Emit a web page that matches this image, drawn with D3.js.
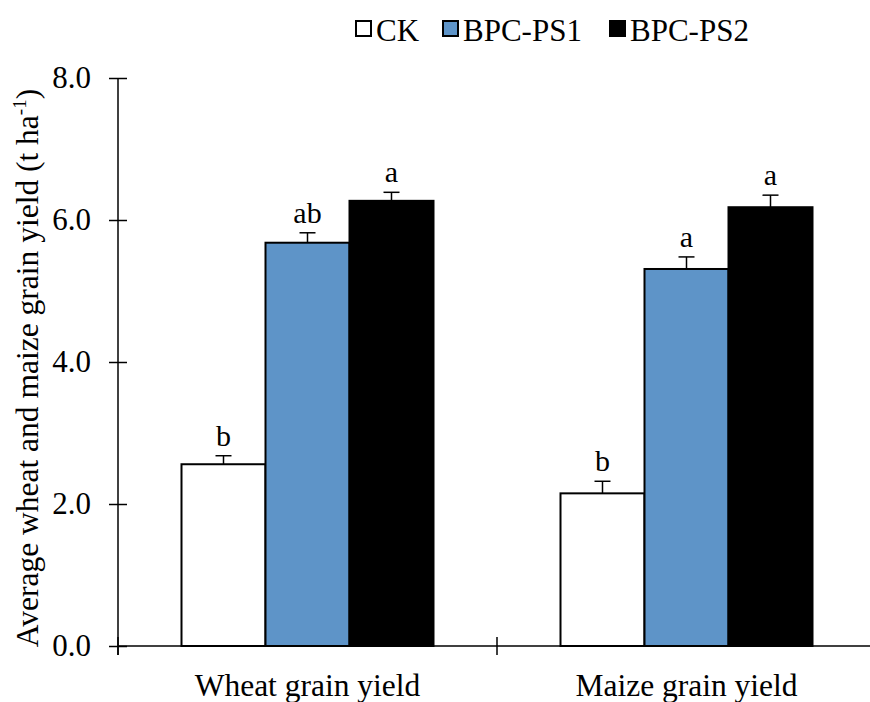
<!DOCTYPE html>
<html>
<head>
<meta charset="utf-8">
<script src="https://cdn.jsdelivr.net/npm/d3@7"></script>
<style>
  body { margin: 0; background: #fff; }
  text { font-family: "Liberation Serif", "Times New Roman", serif; fill: #000; }
</style>
</head>
<body>
<div id="chart"></div>
<script>
var categories = ["Wheat grain yield", "Maize grain yield"];
var series = ["CK", "BPC-PS1", "BPC-PS2"];
var colors = ["#ffffff", "#5e94c8", "#000000"];
// mean yield per category for each series (t ha-1)
var ck = [2.56, 2.15];
var ps1 = [5.68, 5.31];
var ps2 = [6.27, 6.18];
// standard error (upper bar only)
var ck_err = [0.12, 0.17];
var ps1_err = [0.14, 0.17];
var ps2_err = [0.12, 0.17];
// significance letters
var ck_sig = ["b", "b"];
var ps1_sig = ["ab", "a"];
var ps2_sig = ["a", "a"];
var yTicks = [0, 2, 4, 6, 8];

var width = 870;
var height = 702;

var values = [ck, ps1, ps2];
var errs = [ck_err, ps1_err, ps2_err];
var sigs = [ck_sig, ps1_sig, ps2_sig];

var svg = d3.select("#chart").append("svg")
  .attr("width", width)
  .attr("height", height);

var x0 = d3.scaleBand()
  .domain(categories)
  .range([118, 876]);
var bandW = x0.bandwidth();
var x1 = d3.scaleBand()
  .domain(series)
  .range([(bandW - 252) / 2, (bandW + 252) / 2]);
var y = d3.scaleLinear()
  .domain([0, 8])
  .range([646, 78]);

//build a flat table of bars
var bars = [];
series.forEach(function(s, si) {
  categories.forEach(function(c, ci) {
    bars.push({series: s, cat: c, value: values[si][ci], err: errs[si][ci], sig: sigs[si][ci], color: colors[si]});
  });
});

var g = svg.append("g");

//bars
g.selectAll("rect.bar")
  .data(bars)
  .enter().append("rect")
  .attr("class", "bar")
  .attr("x", function(d) { return x0(d.cat) + x1(d.series); })
  .attr("y", function(d) { return y(d.value); })
  .attr("width", x1.bandwidth())
  .attr("height", function(d) { return y(0) - y(d.value); })
  .attr("fill", function(d) { return d.color; })
  .attr("stroke", "#000")
  .attr("stroke-width", 2);

//error bars (up only)
var eb = g.selectAll("g.err")
  .data(bars)
  .enter().append("g")
  .attr("class", "err")
  .attr("transform", function(d) { return "translate(" + (x0(d.cat) + x1(d.series) + x1.bandwidth() / 2) + ",0)"; });
eb.append("line")
  .attr("x1", 0).attr("x2", 0)
  .attr("y1", function(d) { return y(d.value); })
  .attr("y2", function(d) { return y(d.value + d.err); })
  .attr("stroke", "#000").attr("stroke-width", 1.5);
eb.append("line")
  .attr("x1", -8).attr("x2", 8)
  .attr("y1", function(d) { return y(d.value + d.err); })
  .attr("y2", function(d) { return y(d.value + d.err); })
  .attr("stroke", "#000").attr("stroke-width", 1.5);
eb.append("text")
  .attr("text-anchor", "middle")
  .attr("y", function(d) { return y(d.value + d.err) - 10; })
  .attr("font-size", 30)
  .text(function(d) { return d.sig; });

//y axis
var yAxis = svg.append("g")
  .attr("transform", "translate(118,0)")
  .call(d3.axisLeft(y).tickValues(yTicks).tickFormat(d3.format(".1f")).tickSizeOuter(0));
yAxis.select(".domain").attr("d", "M0," + y(8) + "V" + (y(0) + 9)).attr("stroke-width", 1.5);
yAxis.selectAll(".tick line").attr("x1", -9).attr("x2", 9).attr("stroke-width", 1.5);
yAxis.selectAll(".tick text")
  .attr("x", -27)
  .attr("font-size", 31)
  .attr("font-family", "Liberation Serif, Times New Roman, serif");

//x axis
var xAxis = svg.append("g");
xAxis.append("line")
  .attr("x1", 118).attr("x2", 876)
  .attr("y1", y(0)).attr("y2", y(0))
  .attr("stroke", "#000").attr("stroke-width", 1.5);
var bounds = categories.map(function(c) { return x0(c); }).concat([x0.range()[1]]);
xAxis.selectAll("line.tick")
  .data(bounds)
  .enter().append("line")
  .attr("class", "tick")
  .attr("x1", function(d) { return d; }).attr("x2", function(d) { return d; })
  .attr("y1", y(0) - 9).attr("y2", y(0) + 9)
  .attr("stroke", "#000").attr("stroke-width", 1.5);
xAxis.selectAll("text")
  .data(categories)
  .enter().append("text")
  .attr("x", function(d) { return x0(d) + bandW / 2; })
  .attr("y", 696)
  .attr("text-anchor", "middle")
  .attr("font-size", 31.5)
  .text(function(d) { return d; });

//y title
var title = svg.append("text")
  .attr("transform", "translate(38,368) rotate(-90)")
  .attr("text-anchor", "middle")
  .attr("font-size", 31.5);
title.append("tspan").text("Average wheat and maize grain yield (t ha");
title.append("tspan").attr("dy", -12).attr("font-size", 19).text("-1");
title.append("tspan").attr("dy", 12).text(")");

//legend
var legendX = [356, 443, 610];
var legend = svg.selectAll("g.legend")
  .data(series)
  .enter().append("g")
  .attr("class", "legend")
  .attr("transform", function(d, i) { return "translate(" + legendX[i] + ",21)"; });
legend.append("rect")
  .attr("width", 15).attr("height", 15)
  .attr("fill", function(d, i) { return colors[i]; })
  .attr("stroke", "#000").attr("stroke-width", 2);
legend.append("text")
  .attr("x", 20).attr("y", 20)
  .attr("font-size", 31)
  .text(function(d) { return d; });
</script>
</body>
</html>
